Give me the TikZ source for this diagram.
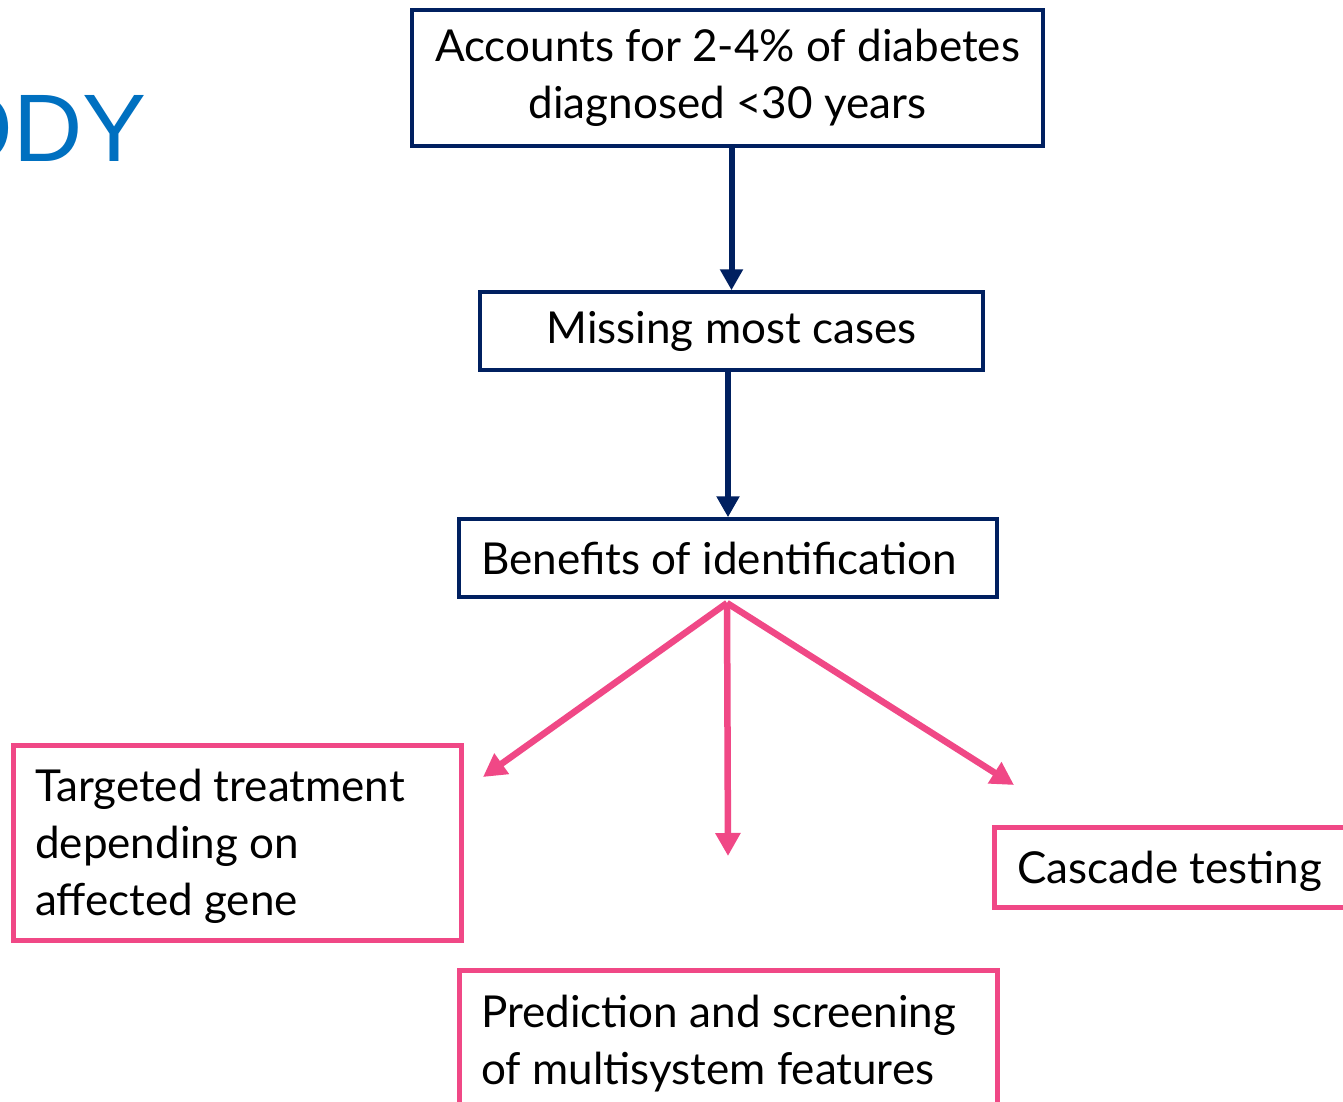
\documentclass[tikz,border=0pt]{standalone}
\usepackage{fontspec}
\setmainfont{Lato}
\newfontfamily\titlefont{Liberation Sans}
\usetikzlibrary{arrows.meta}
\definecolor{navy}{RGB}{0,32,96}
\definecolor{pinkc}{RGB}{240,72,134}
\definecolor{titleblue}{RGB}{0,112,192}
\begin{document}
\begin{tikzpicture}[x=1pt,y=-1pt,
  txt/.style={font=\fontsize{44}{57}\selectfont},
  navybox/.style={draw=navy,line width=3.5pt,inner sep=0pt,txt},
  pinkbox/.style={draw=pinkc,line width=5pt,inner sep=0pt,txt},
  navyarrow/.style={draw=navy,line width=6pt,-{Triangle[length=21pt,width=22pt]}},
  pinkarrow/.style={draw=pinkc,line width=6.5pt,-{Triangle[length=23pt,width=24pt]}},
  lefttext/.style={txt,anchor=base west,inner sep=0pt,align=left}]
\clip (0,0) rectangle (1343,1102);
\fill[white] (0,0) rectangle (1343,1102);
% title
\node[anchor=base east,inner sep=0pt,text=titleblue,font=\titlefont\fontsize{96}{96}\selectfont] (title) at (147,162) {ODY};
% navy boxes
\node[navybox,minimum width=631pt,minimum height=136pt,align=center] (b1) at (727.5,78) {Accounts for 2-4\% of diabetes\\diagnosed <30 years};
\node[navybox,minimum width=503pt,minimum height=78pt] (b2) at (731.5,331) {Missing most cases};
\node[navybox,minimum width=538pt,minimum height=78pt] (b3) at (728,558) {};
\node[lefttext] (t3) at (481,574) {Benefits of identification};
% navy arrows
\draw[navyarrow] (b1.south -| b2.north) -- (b2.north);
\draw[navyarrow] (b2.south -| b3.north) -- (b3.north);
% pink boxes
\node[pinkbox,minimum width=448pt,minimum height=195pt] (p1) at (237,842.5) {};
\node[lefttext] (tp1) at (35,915) {Targeted treatment\\depending on\\affected gene};
\node[pinkbox,minimum width=380pt,minimum height=80pt] (p2) at (1184,867) {};
\node[lefttext] (tp2) at (1017,883) {Cascade testing};
\node[pinkbox,minimum width=538pt,minimum height=180pt] (p3) at (728,1060) {};
\node[lefttext] (tp3) at (481,1084) {Prediction and screening\\of multisystem features};
% pink arrows
\coordinate (split) at (727,603);
\coordinate (eL) at (483,777);
\coordinate (eC) at (728,856);
\coordinate (eR) at (1014,785);
\draw[pinkarrow] (split) -- (eL);
\draw[pinkarrow] (split) -- (eC);
\draw[pinkarrow] (split) -- (eR);
\end{tikzpicture}
\end{document}
